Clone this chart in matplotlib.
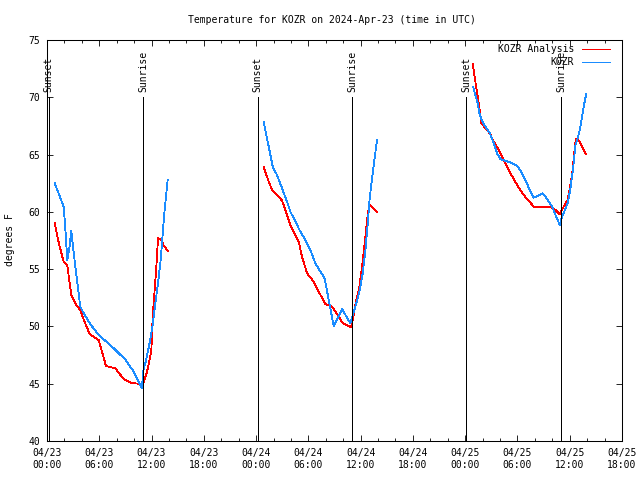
"""KOZR temperature plot (analysis vs. obs) with sunrise/sunset markers."""
import numpy as np
import pandas as pd
import matplotlib
matplotlib.use("Agg")
import matplotlib.pyplot as plt
import matplotlib.dates as mdates

nan = np.nan
BASE = pd.Timestamp("2024-04-23 00:00")

# hours after 04/23 00:00 UTC, nan breaks the line between nights
analysis_hours = [
    0.88, 1.41, 1.91, 2.33, 2.79, 3.25, 3.82, 4.32, 4.89, 5.93, 6.77, 7.84,
    8.80, 9.76, 10.64, 10.98, 11.48, 11.97, 12.13, 12.32, 12.55, 12.74, 13.08,
    13.43, 13.89, nan,
    24.87, 25.45, 25.83, 26.40, 26.98, 27.36, 27.93, 28.51, 28.89, 29.27, 29.85,
    30.61, 31.19, 31.95, 32.72, 33.48, 33.94, 34.90, 35.09, 35.47, 35.86, 36.16,
    36.47, 36.74, 37.00, 37.88, nan,
    48.87, 49.17, 49.44, 49.67, 49.86, 50.32, 50.82, 51.28, 51.85, 52.43, 53.19,
    53.96, 54.72, 55.87, 57.78, 58.36, 58.85, 59.31, 59.77, 60.27, 60.69, 60.92,
    61.30, 61.84,
]
analysis_temp = [
    59.0, 57.1, 55.65, 55.3, 52.75, 52.0, 51.4, 50.4, 49.35, 48.8, 46.55, 46.35,
    45.4, 45.05, 45.0, 44.9, 46.05, 47.8, 50.85, 52.8, 55.2, 57.7, 57.6,
    57.0, 56.6, nan,
    63.89, 62.64, 61.91, 61.47, 60.98, 60.17, 58.86, 57.98, 57.4, 56.09, 54.64,
    53.91, 53.04, 51.94, 51.73, 50.86, 50.28, 49.93, 50.57, 52.17, 53.47, 55.22,
    57.26, 59.29, 60.66, 60.02, nan,
    72.88, 71.36, 70.05, 68.89, 67.73, 67.29, 66.86, 66.13, 65.40, 64.53, 63.37,
    62.35, 61.47, 60.46, 60.46, 60.17, 59.79, 60.46, 61.04, 63.22, 66.36, 66.36,
    65.9, 65.02,
]

obs_hours = [
    0.88, 1.41, 1.91, 2.10, 2.33, 2.56, 2.79, 3.02, 3.44, 3.82, 4.21, 4.97,
    5.93, 7.46, 8.99, 9.95, 10.90, 11.02, 11.29, 11.74, 12.13, 12.43, 12.74,
    13.05, 13.31, 13.50, 13.85, nan,
    24.87, 25.45, 25.91, 26.40, 26.98, 27.55, 27.93, 28.51, 29.08, 29.66, 30.23,
    30.80, 31.38, 31.87, 32.41, 32.91, 33.87, 34.82, 35.40, 35.86, 36.24, 36.55,
    36.85, 37.00, 37.31, 37.58, 37.88, nan,
    48.91, 49.17, 49.44, 49.63, 49.86, 50.21, 50.82, 51.28, 51.66, 52.04, 52.62,
    53.19, 53.96, 54.42, 54.99, 55.49, 55.87, 56.90, 57.48, 57.98, 58.36, 58.85,
    59.12, 59.54, 59.81, 60.08, 60.39, 60.66, 60.92, 61.23, 61.53, 61.88,
]
obs_temp = [
    62.5, 61.47, 60.46, 58.57, 55.8, 56.8, 58.33, 56.7, 54.06, 51.73, 51.15, 50.2,
    49.26, 48.24, 47.1, 46.05, 44.6, 46.05, 46.8, 48.4, 50.13, 52.0, 53.77,
    55.8, 58.4, 60.17, 62.78, nan,
    67.87, 65.69, 63.94, 63.22, 62.06, 60.89, 60.02, 59.15, 58.27, 57.55, 56.67,
    55.51, 54.78, 54.2, 52.02, 50.04, 51.5, 50.28, 51.73, 53.04, 54.64, 56.67,
    59.29, 60.89, 62.93, 64.53, 66.27, nan,
    70.93, 70.2, 69.47, 68.6, 68.11, 67.58, 66.86, 65.99, 65.11, 64.62, 64.44,
    64.33, 64.03, 63.51, 62.64, 61.77, 61.24, 61.62, 61.04, 60.46, 59.73, 58.86,
    59.58, 60.31, 60.89, 62.06, 63.8, 65.84, 66.42, 67.43, 68.89, 70.26,
]

sun_hours = [0.20, 11.07, 24.20, 35.05, 48.15, 59.03]
sun_labels = ["Sunset", "Sunrise", "Sunset", "Sunrise", "Sunset", "Sunrise"]

RED = "#ff0000"
BLUE = "#1a8cff"
FONT = "DejaVu Sans Mono"
FS = 7
LW = 0.6  # ~1 px, aliased like the gnuplot png

T0 = mdates.date2num(BASE.to_pydatetime())


def to_num(hours):
    # matplotlib date numbers (days); nan stays nan so lines break
    return T0 + np.asarray(hours, dtype=float) / 24.0


plt.rcParams["font.family"] = FONT
plt.rcParams["font.size"] = FS

fig = plt.figure(figsize=(6.4, 4.8), dpi=100)
ax = fig.add_axes([47 / 640, 39 / 480, 575 / 640, 401 / 480])
ax.xaxis_date()

ax.plot(to_num(analysis_hours), analysis_temp, color=RED, lw=LW, antialiased=False)
ax.plot(to_num(obs_hours), obs_temp, color=BLUE, lw=LW, antialiased=False)

# sunrise / sunset markers
for t, lab in zip(to_num(sun_hours), sun_labels):
    ax.plot([t, t], [40, 70], color="black", lw=LW, antialiased=False)
    ax.text(t, 70.45, lab, rotation=90, ha="center", va="bottom", fontsize=FS)

ax.set_xlim(T0, T0 + 66 / 24.0)
ax.set_ylim(40, 75)
ax.set_yticks(np.arange(40, 76, 5))
ax.xaxis.set_major_locator(mdates.HourLocator(byhour=[0, 6, 12, 18]))
ax.xaxis.set_minor_locator(mdates.HourLocator(interval=2))
ax.xaxis.set_major_formatter(mdates.DateFormatter("%m/%d\n%H:%M"))

ax.tick_params(which="both", direction="in", top=True, right=True, width=LW,
               labelsize=FS)
ax.tick_params(which="major", length=4.3)
ax.tick_params(which="minor", length=2.2)
ax.tick_params(axis="x", pad=5)
ax.tick_params(axis="y", pad=5)
for sp in ax.spines.values():
    sp.set_linewidth(0.75)

# gnuplot-style legend: right-aligned text, sample line on the right
tr = ax.transAxes
for yy, txt, col in [(0.9776, "KOZR Analysis", RED), (0.945, "KOZR", BLUE)]:
    ax.text(0.9165, yy, txt, transform=tr, ha="right", va="center", fontsize=FS)
    ax.plot([0.930, 0.979], [yy, yy], transform=tr, color=col, lw=LW,
            antialiased=False, clip_on=False)

fig.text(332 / 640, 1 - 20 / 480, "Temperature for KOZR on 2024-Apr-23 (time in UTC)",
         ha="center", va="center", fontsize=FS)
fig.text(10 / 640, 0.5, "degrees F", rotation=90, ha="center", va="center", fontsize=FS)

fig.savefig("out.png", dpi=100)
